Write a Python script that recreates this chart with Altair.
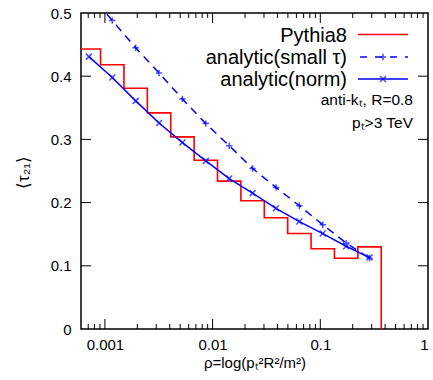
import altair as alt
import pandas as pd
import numpy as np

# ---- data ----
ln_rho_edges = [-7.5, -7.0, -6.5, -6.0, -5.5, -5.0, -4.5, -4.0, -3.5, -3.0, -2.5, -2.0, -1.5, -1.0]
pythia8 = [0.443, 0.418, 0.381, 0.342, 0.304, 0.267, 0.234, 0.203, 0.176, 0.151, 0.127, 0.112, 0.130]
ln_rho_points = [-7.25, -6.75, -6.25, -5.75, -5.25, -4.75, -4.25, -3.75, -3.25, -2.75, -2.25, -1.75, -1.25]
analytic_norm = [0.431, 0.398, 0.361, 0.326, 0.295, 0.266, 0.238, 0.215, 0.191, 0.170, 0.151, 0.131, 0.113]
analytic_small = [0.532, 0.488, 0.445, 0.405, 0.364, 0.325, 0.290, 0.254, 0.224, 0.195, 0.165, 0.136, 0.112]
x_major = [0.001, 0.01, 0.1, 1]
x_minor = [0.0007, 0.0008, 0.0009,
           0.002, 0.003, 0.004, 0.005, 0.006, 0.007, 0.008, 0.009,
           0.02, 0.03, 0.04, 0.05, 0.06, 0.07, 0.08, 0.09,
           0.2, 0.3, 0.4, 0.5, 0.6, 0.7, 0.8, 0.9]
y_major = [0, 0.1, 0.2, 0.3, 0.4, 0.5]
legend_labels = ["Pythia8", "analytic(small τ)", "analytic(norm)"]

W, H = 347, 316
FONT = "Liberation Sans"
RED = "#ff0000"
BLUE = "#0000ff"

# ---- tables ----
edges = np.exp(ln_rho_edges)
hist_rows = []
for i, v in enumerate(pythia8):
    hist_rows.append({"x": edges[i], "y": v, "o": 2 * i})
    hist_rows.append({"x": edges[i + 1], "y": v, "o": 2 * i + 1})
hist_rows.append({"x": edges[-1], "y": 0.0, "o": 2 * len(pythia8)})
hist_df = pd.DataFrame(hist_rows)

pts = np.exp(ln_rho_points)
norm_df = pd.DataFrame({"x": pts, "y": analytic_norm})
small_df = pd.DataFrame({"x": pts, "y": analytic_small})
xmaj_df = pd.DataFrame({"x": x_major[:-1]})
xmin_df = pd.DataFrame({"x": x_minor})
ymaj_df = pd.DataFrame({"y": y_major[1:-1]})
one = pd.DataFrame({"a": [0]})

xs = alt.Scale(type="log", domain=[6e-4, 1], nice=False)
ys = alt.Scale(domain=[0, 0.5], nice=False, zero=False)
xaxis = alt.Axis(values=x_major, format="~g", title="ρ=log(pₜ²R²/m²)",
                 labelPadding=8, titleBaseline="alphabetic", titleY=38)
yaxis = alt.Axis(values=y_major, format="~g", title="⟨τ₂₁⟩",
                 labelPadding=10, titleX=-58, titleY=H / 2 + 1,
                 titleAlign="center", titleBaseline="middle", titleFontSize=17)

def X(f="x"):
    return alt.X(f"{f}:Q", scale=xs, axis=xaxis)

def Y(f="y"):
    return alt.Y(f"{f}:Q", scale=ys, axis=yaxis)

hist = alt.Chart(hist_df).mark_line(color=RED, strokeWidth=1.6, clip=True).encode(
    x=X(), y=Y(), order="o:Q")

small_line = alt.Chart(small_df).mark_line(color=BLUE, strokeWidth=1.5, strokeDash=[8, 6], clip=True).encode(
    x=X(), y=Y())
small_pts = alt.Chart(small_df).mark_point(shape="M-1,0L1,0M0,-1L0,1", size=40, filled=False,
                                           color=BLUE, strokeWidth=1.5, clip=True).encode(x=X(), y=Y())
norm_line = alt.Chart(norm_df).mark_line(color=BLUE, strokeWidth=1.5, clip=True).encode(x=X(), y=Y())
norm_pts = alt.Chart(norm_df).mark_point(shape="M-1,-1L1,1M-1,1L1,-1", size=36, filled=False,
                                         color=BLUE, strokeWidth=1.5, clip=True).encode(x=X(), y=Y())

# inward ticks (gnuplot style) on all four sides
tick_layers = []
for df, ln in ((xmaj_df, 10), (xmin_df, 5)):
    tick_layers.append(alt.Chart(df).mark_rule(color="black", strokeWidth=1).encode(
        x=X(), y=alt.value(H), y2=alt.value(H - ln)))
    tick_layers.append(alt.Chart(df).mark_rule(color="black", strokeWidth=1).encode(
        x=X(), y=alt.value(0), y2=alt.value(ln)))
tick_layers.append(alt.Chart(ymaj_df).mark_rule(color="black", strokeWidth=1).encode(
    y=Y(), x=alt.value(0), x2=alt.value(10)))
tick_layers.append(alt.Chart(ymaj_df).mark_rule(color="black", strokeWidth=1).encode(
    y=Y(), x=alt.value(W), x2=alt.value(W - 10)))

# legend (gnuplot style: label right-aligned, sample to the right)
leg_x_text, leg_x0, leg_x1 = 266, 277, 327
leg_y = [21.5, 44, 66]
legend_layers = []
for lab, yy in zip(legend_labels, leg_y):
    legend_layers.append(alt.Chart(one).mark_text(align="right", baseline="middle", font=FONT,
                                                  fontSize=20, color="black").encode(
        x=alt.value(leg_x_text), y=alt.value(yy + 1), text=alt.value(lab)))
legend_layers.append(alt.Chart(one).mark_rule(color=RED, strokeWidth=1.6).encode(
    x=alt.value(leg_x0), x2=alt.value(leg_x1), y=alt.value(leg_y[0])))
legend_layers.append(alt.Chart(one).mark_rule(color=BLUE, strokeWidth=1.5, strokeDash=[7, 8],
                                              strokeDashOffset=-2).encode(
    x=alt.value(leg_x0), x2=alt.value(leg_x1), y=alt.value(leg_y[1])))
legend_layers.append(alt.Chart(one).mark_point(shape="M-1,0L1,0M0,-1L0,1", size=40, filled=False,
                                               color=BLUE, strokeWidth=1.5).encode(
    x=alt.value((leg_x0 + leg_x1) / 2), y=alt.value(leg_y[1])))
legend_layers.append(alt.Chart(one).mark_rule(color=BLUE, strokeWidth=1.5).encode(
    x=alt.value(leg_x0), x2=alt.value(leg_x1), y=alt.value(leg_y[2])))
legend_layers.append(alt.Chart(one).mark_point(shape="M-1,-1L1,1M-1,1L1,-1", size=36, filled=False,
                                               color=BLUE, strokeWidth=1.5).encode(
    x=alt.value((leg_x0 + leg_x1) / 2), y=alt.value(leg_y[2])))

ann1 = alt.Chart(one).mark_text(align="right", baseline="alphabetic", font=FONT, fontSize=15.5,
                                color="black").encode(
    x=alt.value(332), y=alt.value(92), text=alt.value("anti-kₜ, R=0.8"))
ann2 = alt.Chart(one).mark_text(align="right", baseline="alphabetic", font=FONT, fontSize=15.5,
                                color="black").encode(
    x=alt.value(332), y=alt.value(115), text=alt.value("pₜ>3 TeV"))

chart = alt.layer(
    hist, small_line, small_pts, norm_line, norm_pts,
    *tick_layers, *legend_layers, ann1, ann2
).properties(
    width=W, height=H,
    background="white",
    padding={"left": 81, "top": 13, "right": 5, "bottom": 51},
    autosize=alt.AutoSizeParams(type="none"),
).configure_view(
    stroke="black", strokeWidth=1.5
).configure_axis(
    domain=False, ticks=False, tickSize=0, grid=False,
    labelFont=FONT, labelFontSize=15, labelColor="black",
    titleFont=FONT, titleFontSize=15, titleFontWeight="normal", titleColor="black",
)

chart.save("out.html", embed_options={"renderer": "svg", "actions": False})
